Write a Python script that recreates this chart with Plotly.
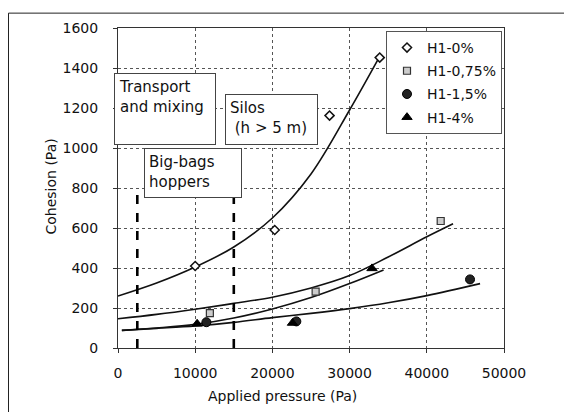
import plotly.graph_objects as go

# ---------------- data ----------------
series_names = ["H1-0%", "H1-0,75%", "H1-1,5%", "H1-4%"]

# measured points
pts_x_0 = [10000, 20300, 27400, 33900]
pts_y_0 = [410, 590, 1162, 1452]
pts_x_075 = [11900, 25600, 41800]
pts_y_075 = [174, 282, 635]
pts_x_15 = [11450, 23100, 45600]
pts_y_15 = [129, 133, 343]
pts_x_4 = [10250, 22600, 32900]
pts_y_4 = [121, 125, 398]

# trend curves
fit_x_0 = [0, 5000, 10000, 15000, 20000, 25000, 30000, 33900]
fit_y_0 = [260, 325, 405, 505, 650, 870, 1190, 1458]
fit_x_075 = [0, 5000, 10000, 15000, 20000, 25000, 30000, 35000, 40000, 43400]
fit_y_075 = [146, 168, 194, 223, 254, 300, 362, 455, 556, 621]
fit_x_15 = [500, 5000, 10000, 15000, 20000, 25000, 30000, 35000, 40000, 46900]
fit_y_15 = [88, 98, 110, 128, 152, 173, 197, 226, 262, 322]
fit_x_4 = [500, 5000, 10000, 15000, 20000, 25000, 30000, 34400]
fit_y_4 = [88, 100, 118, 150, 195, 252, 322, 390]

# zone boundaries (dashed verticals)
zone_x = [2500, 15000]
zone_top = [790, 765]

x_ticks = [0, 10000, 20000, 30000, 40000, 50000]
y_ticks = [0, 200, 400, 600, 800, 1000, 1200, 1400, 1600]

FONT = "DejaVu Sans"

fig = go.Figure()

# trend curves
for fx, fy in [(fit_x_0, fit_y_0), (fit_x_075, fit_y_075), (fit_x_15, fit_y_15), (fit_x_4, fit_y_4)]:
    fig.add_trace(go.Scatter(x=fx, y=fy, mode="lines", showlegend=False,
                             line=dict(color="#111111", width=1.6, shape="spline", smoothing=1.0),
                             hoverinfo="skip"))

# zone dashed lines
for zx, zt in zip(zone_x, zone_top):
    fig.add_trace(go.Scatter(x=[zx, zx], y=[0, zt], mode="lines", showlegend=False,
                             line=dict(color="#000000", width=2.6, dash="dash"), hoverinfo="skip"))

# markers
fig.add_trace(go.Scatter(x=pts_x_0, y=pts_y_0, mode="markers", name=series_names[0],
                         legendgroup="a",
                         marker=dict(symbol="diamond", size=7, color="#ffffff",
                                     line=dict(color="#111111", width=1.5))))
fig.add_trace(go.Scatter(x=pts_x_075, y=pts_y_075, mode="markers", name=series_names[1],
                         legendgroup="b",
                         marker=dict(symbol="square", size=7, color="#cccccc",
                                     line=dict(color="#333333", width=1.2))))
fig.add_trace(go.Scatter(x=pts_x_15, y=pts_y_15, mode="markers", name=series_names[2],
                         legendgroup="c",
                         marker=dict(symbol="circle", size=9, color="#222222",
                                     line=dict(color="#000000", width=1))))
fig.add_trace(go.Scatter(x=pts_x_4, y=pts_y_4, mode="markers", name=series_names[3],
                         legendgroup="d",
                         marker=dict(symbol="triangle-up", size=9, color="#000000",
                                     line=dict(color="#000000", width=1))))

# page geometry (the page body has an 8px margin)
OFF = 8
W, H = 572 - OFF, 412 - OFF
PL, PR, PT, PB = 118, 504, 25, 348          # plot area in page pixels
L, T = PL - OFF, PT - OFF
R, B = W + OFF - PR, H + OFF - PB
PW, PH = PR - PL, PB - PT


def px(xp):
    return (xp - PL) / PW


def py(yp):
    return (PB - yp) / PH


box_style = dict(xref="paper", yref="paper", xanchor="left", yanchor="top",
                 showarrow=False, align="left", valign="top",
                 bgcolor="#ffffff", bordercolor="#444444", borderwidth=1, borderpad=4,
                 font=dict(family=FONT, size=15, color="#111111"))

fig.add_annotation(text="Transport<br>and mixing", x=px(114), y=py(70),
                   width=92, height=62, **box_style)
fig.add_annotation(text="Silos<br> (h > 5 m)", x=px(225), y=py(92),
                   width=83, height=41, **box_style)
fig.add_annotation(text="Big-bags<br>hoppers", x=px(144), y=py(146),
                   width=88, height=40, **box_style)

# axis titles
fig.add_annotation(text="Applied pressure (Pa)", xref="paper", yref="paper",
                   x=px(282), y=py(396), xanchor="center", yanchor="middle", showarrow=False,
                   font=dict(family=FONT, size=14, color="#111111"))
fig.add_annotation(text="Cohesion (Pa)", xref="paper", yref="paper",
                   x=px(51), y=py(185), xanchor="center", yanchor="middle",
                   showarrow=False, textangle=-90,
                   font=dict(family=FONT, size=14, color="#111111"))

# outer frame (top + left)
fig.add_shape(type="line", xref="paper", yref="paper", x0=px(8.5), x1=px(567), y0=py(10), y1=py(10),
              line=dict(color="#222222", width=1))
fig.add_shape(type="line", xref="paper", yref="paper", x0=px(8.5), x1=px(8.5), y0=py(10), y1=py(415),
              line=dict(color="#222222", width=1))

axis_common = dict(showline=True, linecolor="#333333", linewidth=1, mirror=True,
                   showgrid=True, gridcolor="#555555", gridwidth=1, griddash="dot",
                   zeroline=False, ticks="outside", ticklen=4, tickcolor="#333333",
                   tickfont=dict(family=FONT, size=14, color="#111111"))

fig.update_xaxes(range=[0, 50000], tickvals=x_ticks, ticktext=[str(v) for v in x_ticks],
                 ticklabelstandoff=8, **axis_common)
fig.update_yaxes(range=[0, 1600], tickvals=y_ticks, ticktext=[str(v) for v in y_ticks],
                 ticklabelstandoff=12, **axis_common)

fig.update_layout(
    width=W, height=H,
    margin=dict(l=L, r=R, t=T, b=B),
    paper_bgcolor="#ffffff", plot_bgcolor="#ffffff",
    font=dict(family=FONT, size=14, color="#111111"),
    legend=dict(x=px(386), y=py(28), xanchor="left", yanchor="top",
                bgcolor="#ffffff", bordercolor="#555555", borderwidth=1,
                font=dict(family=FONT, size=14, color="#111111"),
                itemwidth=30, tracegroupgap=2, traceorder="grouped"),
)

fig.write_html("out.html")
